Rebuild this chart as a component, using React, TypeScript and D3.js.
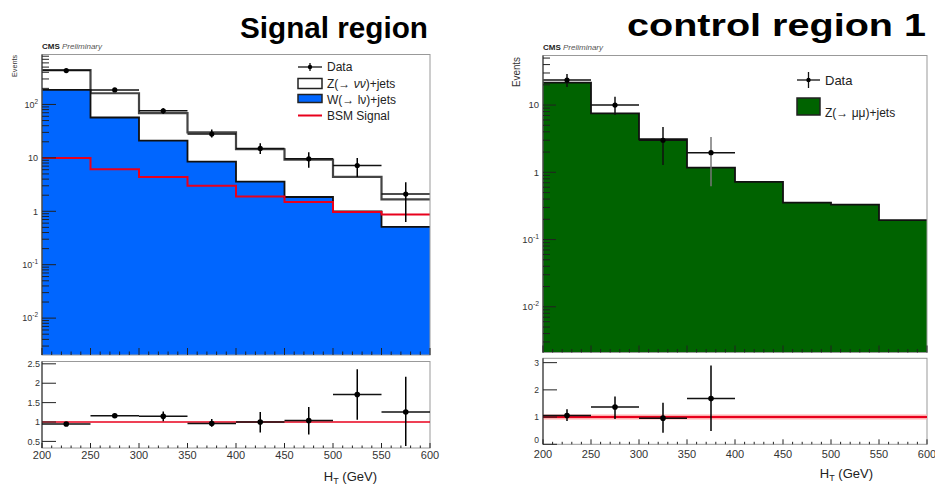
import React from "react";
import * as d3 from "d3";

// ---------------- data ----------------
const binEdges = [200, 250, 300, 350, 400, 450, 500, 550, 600];

// Signal region
const srWjets = [187, 57, 21, 8.5, 3.6, 1.85, 1.0, 0.51];
const srZnunu = [254, 105, 48, 21.5, 10.9, 7.4, 3.4, 1.16];
const srBSM = [9.9, 6.1, 4.4, 3.0, 1.9, 1.5, 0.97, 0.87];
const srData = [430, 187, 76, 28, 15, 9.6, 7.2, 2.1];
const srDataLo = [410, 173, 67, 24, 11.8, 6.5, 4.4, 0.63];
const srDataHi = [451, 201, 85, 34, 18.7, 12.8, 9.9, 3.5];
const srRatio = [0.95, 1.16, 1.15, 0.96, 1.0, 1.04, 1.71, 1.26];
const srRatioLo = [0.92, 1.11, 1.02, 0.88, 0.73, 0.68, 1.06, 0.38];
const srRatioHi = [0.99, 1.21, 1.27, 1.08, 1.26, 1.39, 2.36, 2.17];

// Control region 1
const crZmumu = [21.5, 7.5, 3.1, 1.17, 0.72, 0.355, 0.33, 0.195];
const crData = [23.5, 10, 3.0, 1.96];
const crDataLo = [18.6, 7.1, 1.28, 0.62];
const crDataHi = [29, 13.3, 4.7, 3.35];
const crRatio = [1.06, 1.37, 0.96, 1.68];
const crRatioLo = [0.86, 0.93, 0.42, 0.49];
const crRatioHi = [1.29, 1.76, 1.53, 2.9];

const srRatioTicks = [0.5, 1, 1.5, 2, 2.5];
const crRatioTicks = [0, 1, 2, 3];
const xTickLabels = [200, 250, 300, 350, 400, 450, 500, 550, 600];

const FONT = "'Liberation Sans', Arial, Helvetica, sans-serif";
const BLUE = "#0066ff";
const GREEN = "#006300";
const RED = "#e8001c";

type Scale = d3.ScaleLinear<number, number> | d3.ScaleLogarithmic<number, number>;

function stepPts(vals: number[]) {
  const pts: [number, number][] = vals.map((v, i) => [binEdges[i], v]);
  pts.push([binEdges[vals.length], vals[vals.length - 1]]);
  return pts;
}

function StepLine({ vals, x, y, stroke, width }: { vals: number[]; x: Scale; y: Scale; stroke: string; width: number }) {
  const line = d3
    .line<[number, number]>()
    .x((d) => x(d[0]))
    .y((d) => y(d[1]))
    .curve(d3.curveStepAfter);
  return <path d={line(stepPts(vals)) || ""} fill="none" stroke={stroke} strokeWidth={width} />;
}

function StepArea({ vals, x, y, fill }: { vals: number[]; x: Scale; y: Scale; fill: string }) {
  const y0 = (y.range() as number[])[0];
  const area = d3
    .area<[number, number]>()
    .x((d) => x(d[0]))
    .y0(y0)
    .y1((d) => y(d[1]))
    .curve(d3.curveStepAfter);
  return <path d={area(stepPts(vals)) || ""} fill={fill} stroke="none" />;
}

function DataPoints({ vals, lo, hi, x, y, r = 2.6, vColor = "#000" }: any) {
  return (
    <g>
      {vals.map((v: number, i: number) => {
        const cx = x((binEdges[i] + binEdges[i + 1]) / 2);
        const cy = y(v);
        return (
          <g key={i}>
            <line x1={x(binEdges[i])} x2={x(binEdges[i + 1])} y1={cy} y2={cy} stroke="#111" strokeWidth={1.5} />
            <line x1={cx} x2={cx} y1={y(lo[i])} y2={y(hi[i])} stroke={typeof vColor === "function" ? vColor(i) : vColor} strokeWidth={1.5} />
            <circle cx={cx} cy={cy} r={r} fill="#000" />
          </g>
        );
      })}
    </g>
  );
}

function LogYAxis({ y, x0, labelX, fs, majorLen, minorLen }: any) {
  const [lo, hi] = y.domain();
  const items: any[] = [];
  const kMin = Math.floor(Math.log10(lo));
  const kMax = Math.ceil(Math.log10(hi));
  for (let k = kMin; k <= kMax; k++) {
    for (let m = 1; m <= 9; m++) {
      const v = m * Math.pow(10, k);
      if (v < lo || v > hi) continue;
      const py = y(v);
      items.push(
        <line key={`t${k}_${m}`} x1={x0} x2={x0 + (m === 1 ? majorLen : minorLen)} y1={py} y2={py} stroke="#222" strokeWidth={1} />
      );
      if (m === 1) {
        let label: any;
        if (k === 0) label = "1";
        else if (k === 1) label = "10";
        else
          label = (
            <>
              10
              <tspan dy={-4} fontSize={fs * 0.72}>
                {k}
              </tspan>
            </>
          );
        items.push(
          <text key={`l${k}`} x={labelX} y={py + fs * 0.36} fontSize={fs} textAnchor="end" fill="#333" fontFamily={FONT}>
            {label}
          </text>
        );
      }
    }
  }
  return <g>{items}</g>;
}

function XTicks({ x, yBase, majorLen, minorLen }: any) {
  const items: any[] = [];
  for (let v = 200; v <= 600; v += 10) {
    const major = v % 50 === 0;
    const px = x(v);
    items.push(<line key={v} x1={px} x2={px} y1={yBase} y2={yBase - (major ? majorLen : minorLen)} stroke="#222" strokeWidth={1} />);
  }
  return <g>{items}</g>;
}

function RatioPanel({ x, y, ticks, ratio, lo, hi, labelX, fs, xfs, labelY, thickLine }: any) {
  const [l, r] = x.range();
  const [b, t] = y.range();
  return (
    <g>
      <rect x={l} y={t} width={r - l} height={b - t} fill="#fff" stroke="#999" strokeWidth={1} />
      {thickLine && <line x1={l} x2={r} y1={y(1)} y2={y(1)} stroke="#ffb0b0" strokeWidth={5} />}
      <line x1={l} x2={r} y1={y(1)} y2={y(1)} stroke={RED} strokeWidth={thickLine ? 2 : 1.4} />
      {ticks.map((tv: number) => {
        const ly = Math.min(y(tv) + fs * 0.36, b - 1.5);
        return (
          <g key={tv}>
            <line x1={l} x2={l + 14} y1={y(tv)} y2={y(tv)} stroke="#222" strokeWidth={1} />
            <text x={labelX} y={ly} fontSize={fs} textAnchor="end" fill="#333" fontFamily={FONT}>
              {tv}
            </text>
          </g>
        );
      })}
      <line x1={l} x2={l} y1={t} y2={b} stroke="#222" strokeWidth={1} />
      <XTicks x={x} yBase={b} majorLen={5} minorLen={2.5} />
      {xTickLabels.map((v) => (
        <text key={v} x={x(v)} y={labelY} fontSize={xfs} textAnchor="middle" fill="#333" fontFamily={FONT}>
          {v}
        </text>
      ))}
      <DataPoints vals={ratio} lo={lo} hi={hi} x={x} y={y} r={2.8} />
    </g>
  );
}

function CMSLabel({ x, y }: { x: number; y: number }) {
  return (
    <text x={x} y={y} fontSize={8} fontFamily={FONT} fill="#222">
      <tspan fontWeight="bold">CMS</tspan>
      <tspan fontStyle="italic" fill="#555">
        {" "}Preliminary
      </tspan>
    </text>
  );
}

export default function App() {
  // ---------- Signal region ----------
  const xL = d3.scaleLinear().domain([200, 600]).range([42, 430]);
  const yL = d3.scaleLog().domain([0.00204, 861]).range([355, 54.5]);
  const yLR = d3.scaleLinear().domain([0.33, 2.56]).range([448, 361.5]);
  const srTotal = srWjets.map((w, i) => w + srZnunu[i]);

  // ---------- Control region ----------
  const xR = d3.scaleLinear().domain([200, 600]).range([543, 927]);
  const yR = d3.scaleLog().domain([0.00209, 54.6]).range([352.5, 55.5]);
  const yRR = d3.scaleLinear().domain([0, 3.16]).range([444.3, 358.3]);

  return (
    <svg width={935} height={486} style={{ position: "absolute", left: 0, top: 0, background: "#fff" }} fontFamily={FONT}>
      <rect x={0} y={0} width={935} height={486} fill="#fff" />

      {/* ============ LEFT: Signal region ============ */}
      <text x={240} y={38} fontSize={30} fontWeight="bold" fill="#000" textLength={188} lengthAdjust="spacingAndGlyphs">
        Signal region
      </text>
      <CMSLabel x={42} y={49} />
      <text transform="translate(17,55) rotate(-90)" fontSize={8} textAnchor="end" fill="#333" textLength={22} lengthAdjust="spacingAndGlyphs">
        Events
      </text>

      <rect x={42} y={54.5} width={388} height={300.5} fill="#fff" />
      <StepArea vals={srTotal} x={xL} y={yL} fill="#fff" />
      <StepLine vals={srTotal} x={xL} y={yL} stroke="#444" width={2.2} />
      <StepArea vals={srWjets} x={xL} y={yL} fill={BLUE} />
      <StepLine vals={srWjets} x={xL} y={yL} stroke="#111" width={1.8} />
      <StepLine vals={srBSM} x={xL} y={yL} stroke={RED} width={2} />
      <DataPoints vals={srData} lo={srDataLo} hi={srDataHi} x={xL} y={yL} />
      <rect x={42} y={54.5} width={388} height={300.5} fill="none" stroke="#999" strokeWidth={1} />
      <line x1={42} x2={42} y1={54.5} y2={355} stroke="#222" strokeWidth={1} />
      <LogYAxis y={yL} x0={42} labelX={38} fs={9} majorLen={14} minorLen={7} />
      <XTicks x={xL} yBase={355} majorLen={7} minorLen={3.5} />

      {/* legend */}
      <g fontSize={12} fill="#222">
        <line x1={298} x2={322} y1={67} y2={67} stroke="#111" strokeWidth={1.3} />
        <line x1={310} x2={310} y1={63} y2={71} stroke="#111" strokeWidth={1.3} />
        <circle cx={310} cy={67} r={2.2} fill="#000" />
        <text x={327} y={71}>Data</text>

        <rect x={298} y={78.5} width={24} height={10} fill="#fff" stroke="#222" strokeWidth={1.5} />
        <text x={327} y={88}>
          Z(→ <tspan fontStyle="italic">νν</tspan>)+jets
        </text>

        <rect x={298} y={94.5} width={24} height={8} fill={BLUE} stroke="#222" strokeWidth={1.5} />
        <text x={327} y={104}>W(→ lν)+jets</text>

        <line x1={298} x2={322} y1={115.5} y2={115.5} stroke={RED} strokeWidth={2} />
        <text x={327} y={120}>BSM Signal</text>
      </g>

      <RatioPanel x={xL} y={yLR} ticks={srRatioTicks} ratio={srRatio} lo={srRatioLo} hi={srRatioHi} labelX={40} fs={9} xfs={11} labelY={459} thickLine={false} />
      <text x={377} y={481} fontSize={13} textAnchor="end" fill="#222">
        H<tspan dy={3} fontSize={9}>T</tspan>
        <tspan dy={-3}> (GeV)</tspan>
      </text>

      {/* ============ RIGHT: Control region 1 ============ */}
      <text x={627} y={36} fontSize={32} fontWeight="bold" fill="#000" textLength={299} lengthAdjust="spacingAndGlyphs">
        control region 1
      </text>
      <CMSLabel x={543} y={50} />
      <text transform="translate(520,57) rotate(-90)" fontSize={10} textAnchor="end" fill="#333" textLength={30} lengthAdjust="spacingAndGlyphs">
        Events
      </text>

      <rect x={543} y={55.5} width={384} height={297} fill="#fff" />
      <StepArea vals={crZmumu} x={xR} y={yR} fill={GREEN} />
      <StepLine vals={crZmumu} x={xR} y={yR} stroke="#111" width={1.8} />
      <DataPoints
        vals={crData}
        lo={crDataLo}
        hi={crDataHi}
        x={xR}
        y={yR}
        vColor={(i: number) => (i === 3 ? "#777" : "#111")}
      />
      <rect x={543} y={55.5} width={384} height={297} fill="none" stroke="#999" strokeWidth={1} />
      <line x1={543} x2={543} y1={55.5} y2={352.5} stroke="#222" strokeWidth={1} />
      <LogYAxis y={yR} x0={543} labelX={539} fs={9.5} majorLen={13} minorLen={7} />
      <XTicks x={xR} yBase={352.5} majorLen={7} minorLen={3.5} />

      {/* legend */}
      <g fontSize={13} fill="#222">
        <line x1={797} x2={820} y1={80} y2={80} stroke="#111" strokeWidth={1.3} />
        <line x1={808.5} x2={808.5} y1={72} y2={88} stroke="#111" strokeWidth={1.3} />
        <circle cx={808.5} cy={80} r={2.2} fill="#000" />
        <text x={825} y={85}>Data</text>

        <rect x={797} y={98} width={23} height={17} fill={GREEN} stroke="#222" strokeWidth={1.5} />
        <text x={825} y={117} fontSize={12}>
          Z(→ μμ)+jets
        </text>
      </g>

      <RatioPanel x={xR} y={yRR} ticks={crRatioTicks} ratio={crRatio} lo={crRatioLo} hi={crRatioHi} labelX={539} fs={8.5} xfs={11} labelY={458} thickLine={true} />
      <text x={873} y={478} fontSize={13} textAnchor="end" fill="#222">
        H<tspan dy={3} fontSize={9}>T</tspan>
        <tspan dy={-3}> (GeV)</tspan>
      </text>
    </svg>
  );
}
